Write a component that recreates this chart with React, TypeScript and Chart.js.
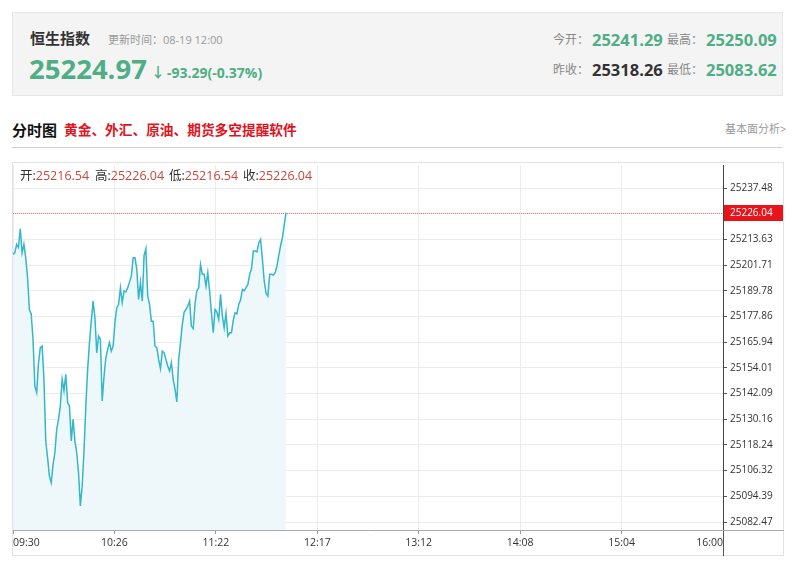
import React, { useEffect, useRef } from "react";
import Chart from "chart.js/auto";

// ---- data ----
const X_LABELS = ["09:30", "10:26", "11:22", "12:17", "13:12", "14:08", "15:04", "16:00"];
const Y_TICKS = [25082.47, 25094.39, 25106.32, 25118.24, 25130.16, 25142.09, 25154.01, 25165.94, 25177.86, 25189.78, 25201.71, 25213.63, 25225.56, 25237.48];
const TOTAL_MINUTES = 390;
const Y_MIN = 25078.76;
const Y_MAX = 25248.16;
// one value per minute from 09:30 to 12:00
const PRICES = [
  25206.7, 25207.4, 25211.3, 25209.8, 25218.5, 25207.4, 25211.3, 25205.1, 25195.8, 25181.1,
  25179.0, 25167.2, 25145.6, 25142.5, 25156.4, 25163.4, 25164.1, 25148.7, 25120.1, 25112.3,
  25103.8, 25100.7, 25109.2, 25114.6, 25125.5, 25130.1, 25136.3, 25148.7, 25143.3, 25151.0,
  25137.9, 25136.3, 25120.1, 25130.1, 25120.1, 25114.6, 25105.4, 25089.9, 25099.2, 25115.4,
  25136.3, 25153.3, 25165.7, 25175.7, 25185.0, 25177.3, 25161.0, 25168.8, 25167.2, 25138.6,
  25150.2, 25158.7, 25162.6, 25165.7, 25161.8, 25164.1, 25175.0, 25181.9, 25183.5, 25191.2,
  25184.3, 25189.7, 25189.2, 25191.2, 25193.8, 25196.6, 25205.1, 25205.1, 25199.7, 25185.8,
  25193.8, 25185.0, 25206.2, 25209.3, 25187.3, 25183.5, 25175.7, 25175.7, 25164.1, 25163.4,
  25157.9, 25153.6, 25161.8, 25161.0, 25157.9, 25154.9, 25152.5, 25156.4, 25148.7, 25144.0,
  25138.2, 25157.9, 25165.7, 25174.2, 25179.9, 25181.1, 25182.7, 25185.0, 25173.4, 25172.2,
  25183.9, 25189.7, 25191.2, 25202.0, 25197.4, 25197.4, 25191.9, 25198.2, 25189.7, 25179.6,
  25170.3, 25181.1, 25179.9, 25176.5, 25188.1, 25178.1, 25172.6, 25179.3, 25168.8, 25170.3,
  25170.3, 25176.2, 25179.6, 25179.1, 25183.5, 25185.5, 25190.4, 25189.7, 25191.2, 25192.7,
  25197.4, 25200.0, 25208.2, 25208.2, 25207.8, 25212.1, 25213.6, 25204.4, 25194.3, 25188.6,
  25187.3, 25197.4, 25197.4, 25197.1, 25198.2, 25201.3, 25206.2, 25210.8, 25214.4, 25220.6,
  25226.04,
];
const LAST_PRICE = 25226.04;

const FONT = '"Open Sans", "Noto Sans CJK SC", sans-serif';
const GREEN = "#4fae85";

const abs = (left: number, top: number, extra: React.CSSProperties = {}): React.CSSProperties => ({
  position: "absolute",
  left,
  top,
  whiteSpace: "nowrap",
  ...extra,
});

export default function App() {
  const ref = useRef<HTMLCanvasElement | null>(null);

  useEffect(() => {
    if (!ref.current) return;
    const extras = {
      id: "extras",
      afterDatasetsDraw(chart: any) {
        const { ctx, chartArea, scales } = chart;
        const y = Math.round(scales.y.getPixelForValue(LAST_PRICE));
        ctx.save();
        ctx.strokeStyle = "#555";
        ctx.lineWidth = 1;
        ctx.beginPath();
        ctx.moveTo(Math.round(chartArea.right) + 0.5, chartArea.bottom);
        ctx.lineTo(Math.round(chartArea.right) + 0.5, chart.height);
        ctx.stroke();
        ctx.strokeStyle = "#aaa";
        ctx.beginPath();
        ctx.moveTo(chartArea.right, Math.round(chartArea.bottom) + 0.5);
        ctx.lineTo(chart.width, Math.round(chartArea.bottom) + 0.5);
        ctx.stroke();
        // dotted last-price line (drawn as small dots)
        ctx.fillStyle = "#f07070";
        for (let x = Math.round(chartArea.left); x < chartArea.right; x += 2) {
          ctx.fillRect(x, y, 1, 1);
        }
        ctx.fillStyle = "#e8141c";
        ctx.fillRect(chartArea.right + 1, y - 8, 59, 16);
        ctx.fillStyle = "#fff";
        ctx.font = `10px ${FONT}`;
        ctx.textBaseline = "middle";
        ctx.textAlign = "left";
        ctx.fillText(LAST_PRICE.toFixed(2), chartArea.right + 7, y + 0.5);
        ctx.restore();
      },
    };

    const chart = new Chart(ref.current, {
      type: "line",
      data: {
        datasets: [
          {
            data: PRICES.map((v, i) => ({ x: i, y: v })),
            borderColor: "#33b7ca",
            borderWidth: 1.5,
            pointRadius: 0,
            fill: "start",
            backgroundColor: "#eef8fb",
            tension: 0,
          },
        ],
      },
      options: {
        animation: false,
        responsive: false,
        devicePixelRatio: 1,
        layout: { padding: { left: 1, top: 3, right: 0, bottom: 0 } },
        plugins: { legend: { display: false }, tooltip: { enabled: false } },
        scales: {
          x: {
            type: "linear",
            min: 0,
            max: TOTAL_MINUTES,
            afterBuildTicks: (scale: any) => {
              scale.ticks = X_LABELS.map((_, i) => ({ value: (i * TOTAL_MINUTES) / (X_LABELS.length - 1) }));
            },
            afterFit: (scale: any) => {
              scale.height = 26;
              scale.paddingLeft = 0;
              scale.paddingRight = 0;
            },
            ticks: {
              align: "inner",
              maxRotation: 0,
              autoSkip: false,
              color: "#333",
              padding: 3,
              font: { size: 10.5, family: FONT },
              callback: (_v: any, i: number) => X_LABELS[i],
            },
            grid: { color: "#ececec", tickColor: "#999", tickLength: 4 },
            border: { color: "#aaa" },
          },
          y: {
            position: "right",
            min: Y_MIN,
            max: Y_MAX,
            afterBuildTicks: (scale: any) => {
              scale.ticks = Y_TICKS.map((v) => ({ value: v }));
            },
            afterFit: (scale: any) => {
              scale.width = 61;
              scale.paddingTop = 0;
              scale.paddingBottom = 0;
            },
            ticks: {
              color: "#333",
              padding: 3,
              autoSkip: false,
              font: { size: 10, family: FONT },
              callback: (v: any) => Number(v).toFixed(2),
            },
            grid: { color: "#ececec", tickColor: "#555", tickLength: 4 },
            border: { color: "#444" },
          },
        },
      },
      plugins: [extras],
    } as any);
    return () => chart.destroy();
  }, []);

  return (
    <div style={{ position: "absolute", left: 0, top: 0, width: 800, height: 568, background: "#fff", fontFamily: FONT, overflow: "hidden" }}>
      <div style={abs(12, 12, { width: 771, height: 84, background: "#f4f4f4", border: "1px solid #e6e6e6", boxSizing: "border-box" })} />
      <div style={abs(30, 28, { fontSize: 15, lineHeight: "20px", fontWeight: 700, color: "#333" })}>恒生指数</div>
      <div style={abs(108, 33, { fontSize: 11, lineHeight: "14px", color: "#999" })}>更新时间：08-19 12:00</div>
      <div style={abs(29, 52, { fontSize: 27.5, lineHeight: "34px", fontWeight: 700, color: GREEN })}>25224.97</div>
      <div style={abs(151, 63, { fontSize: 14, lineHeight: "18px", fontWeight: 700, color: GREEN })}>↓</div>
      <div style={abs(167, 64, { fontSize: 14, lineHeight: "18px", fontWeight: 700, color: GREEN })}>-93.29(-0.37%)</div>

      <div style={abs(553, 32, { fontSize: 12, lineHeight: "16px", color: "#888" })}>今开：</div>
      <div style={abs(592, 29, { fontSize: 16.5, lineHeight: "22px", fontWeight: 700, color: GREEN })}>25241.29</div>
      <div style={abs(667, 32, { fontSize: 12, lineHeight: "16px", color: "#888" })}>最高：</div>
      <div style={abs(706, 29, { fontSize: 16.5, lineHeight: "22px", fontWeight: 700, color: GREEN })}>25250.09</div>
      <div style={abs(553, 62, { fontSize: 12, lineHeight: "16px", color: "#888" })}>昨收：</div>
      <div style={abs(592, 59, { fontSize: 16.5, lineHeight: "22px", fontWeight: 700, color: "#333" })}>25318.26</div>
      <div style={abs(667, 62, { fontSize: 12, lineHeight: "16px", color: "#888" })}>最低：</div>
      <div style={abs(706, 59, { fontSize: 16.5, lineHeight: "22px", fontWeight: 700, color: GREEN })}>25083.62</div>

      <div style={abs(12, 120, { fontSize: 15, lineHeight: "20px", fontWeight: 700, color: "#111" })}>分时图</div>
      <div style={abs(64, 120, { fontSize: 13.7, lineHeight: "20px", fontWeight: 700, color: "#e0141e" })}>黄金、外汇、原油、期货多空提醒软件</div>
      <div style={abs(725, 122, { fontSize: 11, lineHeight: "14px", color: "#999" })}>基本面分析&gt;</div>
      <div style={abs(12, 147, { width: 771, height: 1, background: "#d0d0d0" })} />

      <div style={abs(12, 162, { width: 772, height: 394, border: "1px solid #e2e2e2", boxSizing: "border-box" })} />
      <canvas ref={ref} width={772} height={394} style={abs(12, 162, { width: 772, height: 394 })} />
      <div style={abs(20, 167, { fontSize: 12.5, lineHeight: "18px", color: "#333" })}>开:<span style={{ color: "#c8473c" }}>25216.54</span></div>
      <div style={abs(95, 167, { fontSize: 12.5, lineHeight: "18px", color: "#333" })}>高:<span style={{ color: "#c8473c" }}>25226.04</span></div>
      <div style={abs(169, 167, { fontSize: 12.5, lineHeight: "18px", color: "#333" })}>低:<span style={{ color: "#c8473c" }}>25216.54</span></div>
      <div style={abs(243, 167, { fontSize: 12.5, lineHeight: "18px", color: "#333" })}>收:<span style={{ color: "#c8473c" }}>25226.04</span></div>
    </div>
  );
}
